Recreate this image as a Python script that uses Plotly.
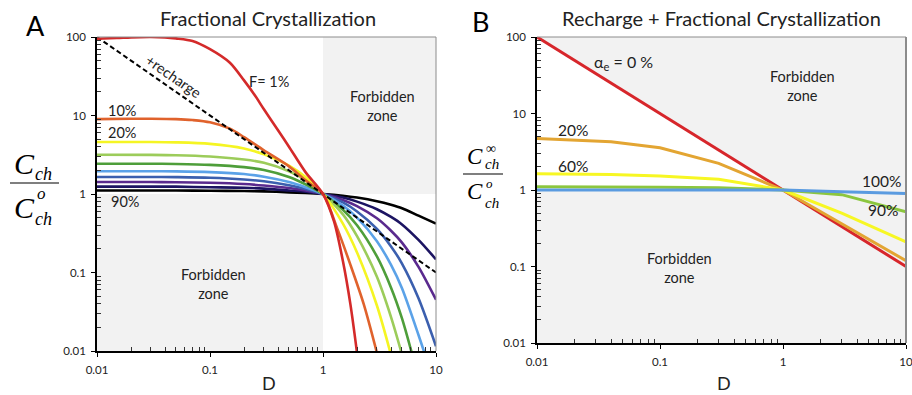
import plotly.graph_objects as go

W, H = 912, 395

# ---------------- Panel A data (Fractional crystallization) ----------------
F_labels = ["1%", "10%", "20%", "30%", "40%", "50%", "60%", "70%", "80%", "90%"]

D_f01 = [0.01, 0.015, 0.02, 0.03, 0.04, 0.05, 0.07, 0.1, 0.15, 0.2, 0.25, 0.3, 0.4, 0.5, 0.7, 1, 1.25, 1.5, 1.75, 2.0]
C_f01 = [95, 97, 99, 100, 99, 96, 89, 70, 47, 28, 18, 12, 6.5, 4.0, 1.9, 1, 0.45, 0.14, 0.039, 0.0095]

D_f10 = [0.01, 0.02, 0.03, 0.05, 0.07, 0.1, 0.15, 0.2, 0.3, 0.5, 0.7, 1, 1.33, 1.75, 2.3, 3.0]
C_f10 = [9.0, 9.1, 9.1, 9.0, 8.75, 8.2, 6.8, 5.3, 3.6, 2.25, 1.5, 1, 0.37, 0.125, 0.039, 0.0095]

D_f20 = [0.01, 0.03, 0.05, 0.1, 0.2, 0.3, 0.5, 0.7, 1, 1.5, 2, 3, 3.95]
C_f20 = [4.6, 4.6, 4.55, 4.35, 3.8, 3.2, 2.3, 1.65, 1, 0.42, 0.18, 0.038, 0.0095]

D_f30 = [0.01, 0.03, 0.05, 0.1, 0.2, 0.3, 0.5, 0.7, 1, 1.5, 2, 3, 4, 4.95]
C_f30 = [3.16, 3.15, 3.12, 3.0, 2.75, 2.5, 1.95, 1.5, 1, 0.55, 0.29, 0.088, 0.027, 0.0095]

D_f40 = [0.01, 0.03, 0.05, 0.1, 0.2, 0.3, 0.5, 0.7, 1, 1.5, 2, 3, 4, 5, 6.1]
C_f40 = [2.43, 2.43, 2.41, 2.35, 2.2, 2.02, 1.65, 1.33, 1, 0.63, 0.4, 0.16, 0.064, 0.026, 0.0095]

D_f50 = [0.01, 0.03, 0.05, 0.1, 0.2, 0.3, 0.5, 0.7, 1, 1.5, 2, 3, 4, 5, 7, 7.9]
C_f50 = [1.95, 1.95, 1.94, 1.9, 1.8, 1.66, 1.42, 1.22, 1, 0.71, 0.5, 0.25, 0.125, 0.063, 0.016, 0.0095]

D_f60 = [0.01, 0.03, 0.05, 0.1, 0.2, 0.3, 0.5, 0.7, 1, 1.5, 2, 3, 4, 5, 7, 10]
C_f60 = [1.65, 1.65, 1.64, 1.61, 1.53, 1.45, 1.29, 1.16, 1, 0.78, 0.6, 0.36, 0.215, 0.13, 0.047, 0.0115]

D_f70 = [0.01, 0.03, 0.05, 0.1, 0.2, 0.3, 0.5, 0.7, 1, 1.5, 2, 3, 4, 5, 7, 10]
C_f70 = [1.42, 1.42, 1.41, 1.39, 1.34, 1.28, 1.19, 1.11, 1, 0.84, 0.7, 0.49, 0.34, 0.24, 0.118, 0.045]

D_f80 = [0.01, 0.03, 0.05, 0.1, 0.2, 0.3, 0.5, 0.7, 1, 1.5, 2, 3, 4, 5, 7, 10]
C_f80 = [1.24, 1.24, 1.24, 1.22, 1.2, 1.17, 1.11, 1.07, 1, 0.9, 0.8, 0.64, 0.51, 0.41, 0.26, 0.147]

D_f90 = [0.01, 0.03, 0.05, 0.1, 0.2, 0.3, 0.5, 0.7, 1, 1.5, 2, 3, 4, 5, 7, 10]
C_f90 = [1.11, 1.11, 1.11, 1.1, 1.09, 1.08, 1.05, 1.03, 1, 0.95, 0.9, 0.81, 0.73, 0.66, 0.53, 0.42]

D_recharge = [0.01, 10]
C_recharge = [100, 0.1]

# ---------------- Panel B data (Recharge + FC) ----------------
D_B = [0.01, 0.04, 0.1, 0.3, 1, 3, 10]
C_ae0 = [100, 25, 10, 3.33, 1, 0.333, 0.1]
C_ae20 = [4.72, 4.26, 3.56, 2.23, 1, 0.36, 0.119]
C_ae60 = [1.63, 1.6, 1.52, 1.38, 1, 0.5, 0.21]
C_ae90 = [1.10, 1.10, 1.09, 1.07, 1, 0.87, 0.52]
C_ae100 = [1, 1, 1, 1, 1, 0.95, 0.9]

tick_vals_x = [0.01, 0.1, 1, 10]
tick_text_x = ["0.01", "0.1", "1", "10"]
tick_vals_y = [0.01, 0.1, 1, 10, 100]
tick_text_y = ["0.01", "0.1", "1", "10", "100"]
minor_mult = [2, 3, 4, 5, 6, 7, 8, 9]

colA = ["#d42a2a", "#e0622c", "#f5f523", "#9ccc5a", "#4e9e3a",
        "#5ba2e8", "#3b5fae", "#5a2a8e", "#1c1462", "#000000"]
colB = {"0": "#d7262b", "20": "#e3a532", "60": "#f7f723", "90": "#8cc63e", "100": "#5a9be0"}

FONT = "Lato, 'Open Sans', sans-serif"
SERIF = "'Liberation Serif', 'Times New Roman', serif"

fig = go.Figure()

# panel B white (allowed) region, derived from alpha_e=0 line and C=1
nB = D_B.index(1) + 1
fig.add_trace(go.Scatter(
    x=D_B[:nB] + D_B[:nB][::-1], y=C_ae0[:nB] + [1] * nB,
    fill="toself", fillcolor="white", line=dict(width=0), mode="lines",
    xaxis="x2", yaxis="y2", hoverinfo="skip", showlegend=False))

seriesA = [(D_f90, C_f90), (D_f80, C_f80), (D_f70, C_f70), (D_f60, C_f60),
           (D_f50, C_f50), (D_f40, C_f40), (D_f30, C_f30), (D_f20, C_f20),
           (D_f10, C_f10)]
colsA = colA[::-1][:9]
for (dd, cc), col in zip(seriesA, colsA):
    fig.add_trace(go.Scatter(x=dd, y=cc, mode="lines",
                             line=dict(color=col, width=2.6, shape="spline", smoothing=0.8),
                             xaxis="x", yaxis="y", showlegend=False))
fig.add_trace(go.Scatter(x=D_recharge, y=C_recharge, mode="lines",
                         line=dict(color="black", width=2, dash="5px,3px"),
                         xaxis="x", yaxis="y", showlegend=False))
fig.add_trace(go.Scatter(x=D_f01, y=C_f01, mode="lines",
                         line=dict(color=colA[0], width=2.6, shape="spline", smoothing=0.8),
                         xaxis="x", yaxis="y", showlegend=False))

for key, vals in [("0", C_ae0), ("20", C_ae20), ("60", C_ae60), ("90", C_ae90), ("100", C_ae100)]:
    fig.add_trace(go.Scatter(x=D_B, y=vals, mode="lines",
                             line=dict(color=colB[key], width=3),
                             xaxis="x2", yaxis="y2", showlegend=False))


def minor_vals(majors):
    return [m * k for m in majors[:-1] for k in minor_mult]


def axis_common(majors):
    return dict(type="log", showline=True, linecolor="black", linewidth=1.5,
                ticks="outside", ticklen=4, tickcolor="black", tickwidth=1,
                showgrid=False, zeroline=False, automargin=False,
                ticklabeloverflow="allow",
                tickfont=dict(family=FONT, size=11.5, color="#222"),
                minor=dict(ticks="inside", ticklen=4, tickcolor="#333", showgrid=False,
                           tickmode="array", tickvals=minor_vals(majors)))


xa = axis_common(tick_vals_x)
xa.update(range=[-2, 1], domain=[97 / W, 436 / W], anchor="y",
          tickvals=tick_vals_x, ticktext=tick_text_x, ticklabelstandoff=3)
ya = axis_common(tick_vals_y)
ya.update(range=[-2, 2], domain=[1 - 351 / H, 1 - 37 / H], anchor="x",
          tickvals=tick_vals_y, ticktext=tick_text_y, ticklabelstandoff=3)
xb = axis_common(tick_vals_x)
xb.update(range=[-2, 1], domain=[537 / W, 906 / W], anchor="y2",
          tickvals=tick_vals_x, ticktext=tick_text_x, ticklabelstandoff=3)
yb = axis_common(tick_vals_y)
yb.update(range=[-2, 2], domain=[1 - 343 / H, 1 - 37 / H], anchor="x2",
          tickvals=tick_vals_y, ticktext=tick_text_y, ticklabelstandoff=3)

shapes = [
    # panel A forbidden zones
    dict(type="rect", xref="x domain", yref="y domain", x0=2 / 3, x1=1, y0=0.5, y1=1,
         fillcolor="#f2f2f2", line=dict(width=0), layer="below"),
    dict(type="rect", xref="x domain", yref="y domain", x0=0, x1=2 / 3, y0=0, y1=0.5,
         fillcolor="#f2f2f2", line=dict(width=0), layer="below"),
    # panel B background (forbidden)
    dict(type="rect", xref="x2 domain", yref="y2 domain", x0=0, x1=1, y0=0, y1=1,
         fillcolor="#f2f2f2", line=dict(width=0), layer="below"),
    # frame lines top/right
    dict(type="line", xref="x domain", yref="y domain", x0=0, x1=1, y0=1, y1=1,
         line=dict(color="#8c8c8c", width=1)),
    dict(type="line", xref="x domain", yref="y domain", x0=1, x1=1, y0=0, y1=1,
         line=dict(color="#8c8c8c", width=1)),
    dict(type="line", xref="x2 domain", yref="y2 domain", x0=0, x1=1, y0=1, y1=1,
         line=dict(color="#8c8c8c", width=1)),
    dict(type="line", xref="x2 domain", yref="y2 domain", x0=1, x1=1, y0=0, y1=1,
         line=dict(color="#8c8c8c", width=2)),
    # fraction bars
    dict(type="line", xref="paper", yref="paper", x0=10 / W, x1=59 / W,
         y0=1 - 183 / H, y1=1 - 183 / H, line=dict(color="black", width=1.2)),
    dict(type="line", xref="paper", yref="paper", x0=463 / W, x1=503 / W,
         y0=1 - 174 / H, y1=1 - 174 / H, line=dict(color="black", width=1.2)),
]

anns = []


def ann(text, px, py, size=13, family=FONT, color="#222", angle=0):
    anns.append(dict(text=text, x=px / W, y=1 - py / H, xref="paper", yref="paper",
                     showarrow=False, xanchor="center", yanchor="middle", textangle=angle,
                     font=dict(family=family, size=size, color=color)))


ann("Fractional Crystallization", 268, 18, 20)
ann("Recharge + Fractional Crystallization", 721, 18, 20)
ann("A", 35, 25, 27, color="black")
ann("B", 480, 22, 27, color="black")
ann("D", 269, 383, 18)
ann("D", 724, 383, 18)

# panel A annotations
ann("+recharge", 174, 76, 14.5, angle=34.6)
ann("F= 1%", 269, 81, 14.5)
ann("10%", 122, 111, 14.5)
ann("20%", 122, 132, 14.5)
ann("90%", 125, 201, 14.5)
ann("Forbidden<br>zone", 382, 106, 14.5)
ann("Forbidden<br>zone", 213, 284, 14.5)

# panel B annotations
ann("α<sub>e</sub> = 0 %", 623, 63, 16)
ann("Forbidden<br>zone", 802, 86, 14.5)
ann("Forbidden<br>zone", 679, 268, 14.5)
ann("20%", 573, 130, 15.5)
ann("60%", 573, 166, 15.5)
ann("100%", 881, 181, 15.5)
ann("90%", 883, 210, 15.5)

# y-axis labels (fractions)
ann("<i>C</i>", 24, 163, 30, SERIF, "black")
ann("<i>ch</i>", 43, 174, 18, SERIF, "black")
ann("<i>C</i>", 24, 207, 30, SERIF, "black")
ann("<i>o</i>", 41, 194, 17, SERIF, "black")
ann("<i>ch</i>", 43, 219, 18, SERIF, "black")

ann("<i>C</i>", 475, 156, 23, SERIF, "black")
ann("∞", 491, 148, 14, SERIF, "black")
ann("<i>ch</i>", 492, 164, 15, SERIF, "black")
ann("<i>C</i>", 475, 191, 23, SERIF, "black")
ann("<i>o</i>", 489, 183, 13, SERIF, "black")
ann("<i>ch</i>", 492, 203, 15, SERIF, "black")

fig.update_layout(
    width=W, height=H, margin=dict(l=0, r=0, t=0, b=0),
    paper_bgcolor="white", plot_bgcolor="white", showlegend=False,
    xaxis=xa, yaxis=ya, xaxis2=xb, yaxis2=yb,
    shapes=shapes, annotations=anns,
)

fig.write_html("out.html", config={"displayModeBar": False},
               post_script="document.body.style.margin='0px';")
